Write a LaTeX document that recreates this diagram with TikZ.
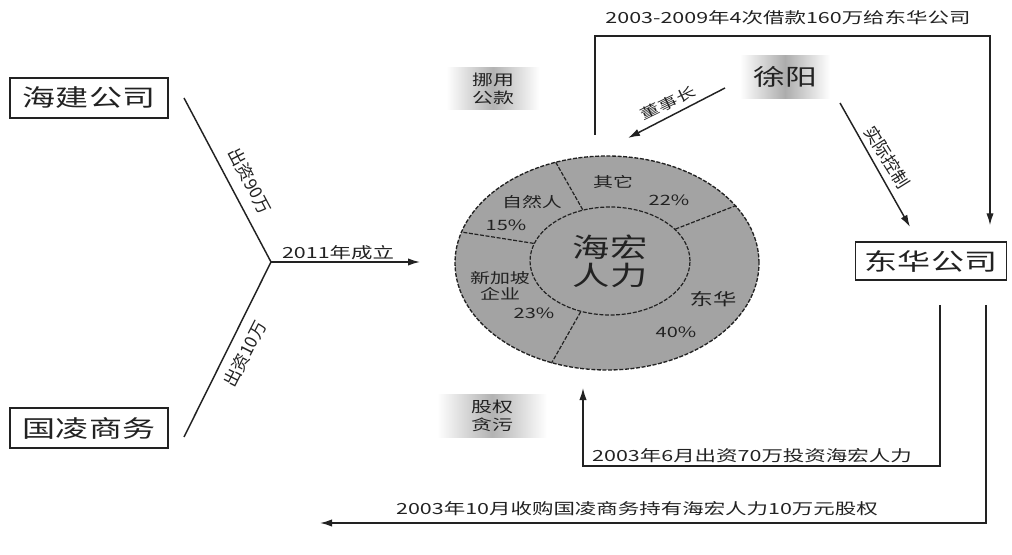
\documentclass[tikz,border=0pt]{standalone}
\usepackage{fontspec}
\setmainfont{Noto Sans CJK SC}
\newfontfamily\cw{Noto Sans CJK SC}[FakeStretch=1.4]
\newfontfamily\cn{Noto Sans CJK SC}
\usetikzlibrary{arrows.meta,shapes.geometric}
\definecolor{ink}{HTML}{222222}
\definecolor{piegray}{HTML}{A3A3A3}
\begin{document}
\begin{tikzpicture}[x=0.75pt,y=-0.75pt,
  line/.style={draw=ink, line width=1.1pt},
  arr/.style={line, -{Latex[length=9pt,width=5.5pt]}},
  bx/.style={draw=ink, line width=1.1pt, fill=white, inner sep=0pt, font=\cw\fontsize{17.7pt}{20pt}\selectfont, text=ink},
  sh/.style={left color=white, right color=white, middle color=gray!60, inner sep=0pt, align=center, text=ink},
  lbl/.style={font=\cw\fontsize{11.5pt}{13pt}\selectfont, text=ink, inner sep=1pt},
  rlbl/.style={font=\cn\fontsize{13pt}{15pt}\selectfont, text=ink, inner sep=1pt},
  plbl/.style={font=\cw\fontsize{10.7pt}{12pt}\selectfont, text=ink, inner sep=0pt, align=center},
  div/.style={draw=ink, line width=0.9pt, dash pattern=on 3pt off 1.2pt},
]
\path[use as bounding box] (0,0) rectangle (1012,555);

% left companies
\node[bx, minimum width=118.5pt, minimum height=30pt] (hj) at (89,98) {海建公司};
\node[bx, minimum width=118.5pt, minimum height=30pt] (gl) at (89,428) {国凌商务};
\coordinate (hje) at (184,98);
\coordinate (gle) at (184,437);
\coordinate (J) at (271,262);
\draw[line] (hje) -- (J);
\draw[line] (gle) -- (J);
\node[rlbl, rotate=-62] at (250,181) {出资90万};
\node[rlbl, rotate=63] at (245,354) {出资10万};

% pie
\node[ellipse, draw=ink, fill=piegray, line width=1pt, dash pattern=on 3pt off 1.2pt, minimum width=228pt, minimum height=160.5pt, inner sep=0pt] (pie) at (607,263) {};
\node[ellipse, div, fill=piegray, minimum width=120pt, minimum height=81pt, inner sep=0pt, font=\cw\fontsize{20pt}{21pt}\selectfont, align=center, text=ink] (hh) at (610,261) {海宏\\人力};
\draw[div] (hh.118) -- (pie.117);
\draw[div] (hh.26) -- (pie.24);
\draw[div] (hh.-120) -- (pie.-119);
\draw[div] (hh.167) -- (pie.168);
\node[plbl] at (613,182) {其它};
\node[plbl] at (669,200) {22\%};
\node[plbl] at (532,202) {自然人};
\node[plbl] at (506,225) {15\%};
\node[plbl] at (500,286) {新加坡\\企业};
\node[plbl] at (534,313) {23\%};
\node[plbl, font=\cw\fontsize{12.5pt}{14pt}\selectfont] at (713,299) {东华};
\node[plbl] at (676,332) {40\%};

\coordinate (pe) at (420,262);
\draw[arr] (J) -- node[lbl, above, pos=0.45] {2011年成立} (pe);

% shaded boxes
\node[sh, minimum width=70pt, minimum height=31.5pt, font=\cw\fontsize{11.2pt}{13pt}\selectfont] (ny) at (493,89) {挪用\\公款};
\node[sh, minimum width=82.5pt, minimum height=32pt, font=\cw\fontsize{11.2pt}{13pt}\selectfont] (gq) at (492,416) {股权\\贪污};
\node[sh, middle color=gray!65, minimum width=67.5pt, minimum height=32pt, font=\cw\fontsize{17pt}{18pt}\selectfont] (xy) at (785,77) {徐阳};

% Donghua
\node[bx, minimum width=113pt, minimum height=28.5pt] (dh) at (931,261) {东华公司};

% Xu Yang arrows
\coordinate (x1) at (725,88);
\coordinate (x2) at (628,138);
\draw[arr] (x1) -- (x2);
\node[lbl, font=\cw\fontsize{10.5pt}{12pt}\selectfont, rotate=26] at (668,103) {董事长};
\coordinate (x3) at (840,103);
\coordinate (x4) at (910,227);
\draw[arr] (x3) -- (x4);
\node[rlbl, rotate=-58] at (887,157) {实际控制};

% top loop
\coordinate (ts) at (595,135);
\coordinate (tr) at (990,36);
\draw[arr, shorten >=12pt] (ts) |- (tr) -- (tr |- dh.north);
\node[lbl] at (788,18) {2003-2009年4次借款160万给东华公司};

% middle loop
\coordinate (ms) at (940,305);
\coordinate (mc) at (583,466);
\coordinate (me) at (583,388);
\draw[arr] (ms) |- (mc) -- (me);
\node[lbl] at (752,456) {2003年6月出资70万投资海宏人力};

% bottom
\coordinate (bs) at (986,305);
\coordinate (bc) at (986,523);
\coordinate (be) at (320,523);
\draw[arr] (bs) -- (bc) -- (be);
\node[lbl] at (637,509) {2003年10月收购国凌商务持有海宏人力10万元股权};
\end{tikzpicture}
\end{document}
